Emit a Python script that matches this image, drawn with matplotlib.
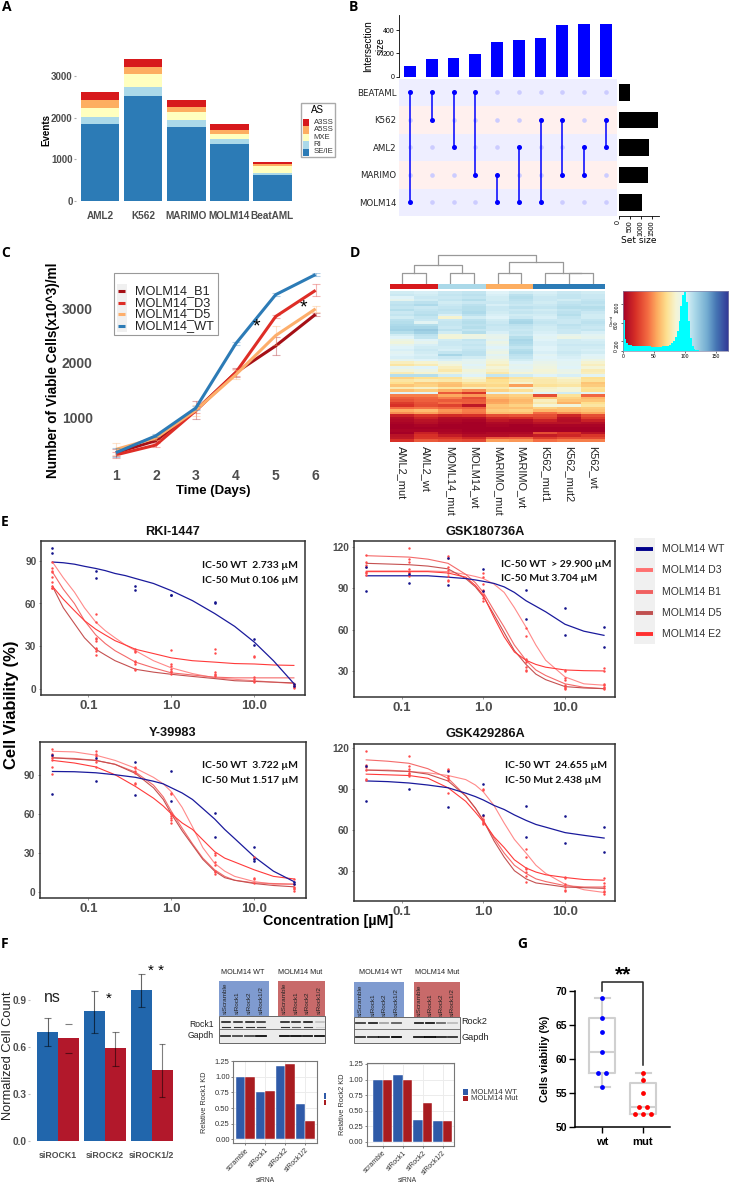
# Figure with panels A-G: splicing events, upset, growth, heatmap, dose response, knockdown
import matplotlib
matplotlib.use('Agg')
import matplotlib.pyplot as plt
from matplotlib.colors import LinearSegmentedColormap
from matplotlib.patches import Rectangle
import numpy as np

plt.rcParams['font.family'] = ['Liberation Sans', 'DejaVu Sans']

W, H = 730, 1185

# A: stacked splicing events
a_cells = ['AML2', 'K562', 'MARIMO', 'MOLM14', 'BeatAML']
a_se = [1843, 2524, 1787, 1378, 633]
a_ri = [168, 224, 152, 112, 32]
a_mxe = [232, 305, 192, 112, 176]
a_a5ss = [185, 168, 137, 97, 40]
a_a3ss = [192, 192, 152, 160, 48]
a_names = ['SE/IE', 'RI', 'MXE', 'A5SS', 'A3SS']

# B: upset plot
b_sets = ['BEATAML', 'K562', 'AML2', 'MARIMO', 'MOLM14']
b_inter = [89, 152, 158, 193, 299, 311, 331, 440, 449, 455]
b_members = [(0, 4), (0, 1), (0, 2), (0, 3), (3, 4), (2, 4), (1, 4), (1, 3), (2, 3), (1, 2)]
b_setsize = [500, 1735, 1350, 1320, 1040]

# C: growth curves
c_days = [1, 2, 3, 4, 5, 6]
c_b1 = [350, 570, 1130, 1820, 2310, 2890]
c_d3 = [310, 490, 1120, 1820, 2850, 3330]
c_d5 = [410, 620, 1130, 1780, 2500, 2990]
c_wt = [350, 660, 1170, 2350, 3250, 3620]
c_b1_err = [60, 30, 170, 80, 170, 30]
c_d3_err = [50, 30, 40, 70, 30, 110]
c_d5_err = [110, 40, 100, 80, 170, 60]
c_wt_err = [80, 30, 30, 30, 30, 20]

# D: heatmap, one row per line
d_samples = ['AML2_mut', 'AML2_wt', 'MOML14_mut', 'MOLM14_wt', 'MARIMO_mut',
             'MARIMO_wt', 'K562_mut1', 'K562_mut2', 'K562_wt']
d_heat = [
    [104, 102, 106, 108, 100, 104, 102, 106, 104],
    [106, 104, 108, 110, 102, 110, 104, 108, 106],
    [100, 106, 106, 108, 104, 112, 106, 108, 106],
    [96, 104, 108, 112, 104, 110, 106, 104, 108],
    [108, 110, 104, 106, 106, 108, 104, 108, 110],
    [110, 114, 106, 110, 102, 106, 106, 110, 108],
    [108, 106, 108, 112, 106, 110, 108, 112, 112],
    [112, 108, 110, 112, 106, 106, 104, 108, 110],
    [106, 110, 108, 114, 104, 108, 106, 110, 106],
    [108, 112, 102, 110, 102, 104, 104, 112, 104],
    [104, 108, 84, 104, 100, 106, 102, 108, 104],
    [110, 106, 106, 110, 104, 114, 106, 106, 108],
    [112, 98, 108, 112, 106, 116, 108, 106, 110],
    [114, 112, 108, 110, 108, 110, 106, 110, 108],
    [116, 116, 106, 112, 106, 108, 104, 108, 106],
    [118, 122, 110, 108, 106, 106, 104, 106, 108],
    [112, 118, 104, 112, 102, 108, 102, 106, 102],
    [104, 110, 88, 90, 96, 106, 100, 96, 98],
    [100, 108, 86, 92, 94, 112, 98, 92, 96],
    [92, 100, 104, 108, 98, 116, 100, 104, 102],
    [88, 96, 106, 106, 92, 114, 102, 104, 104],
    [96, 102, 106, 108, 96, 112, 102, 106, 106],
    [100, 104, 104, 106, 100, 108, 100, 104, 104],
    [102, 106, 102, 108, 96, 112, 100, 104, 102],
    [98, 104, 108, 110, 92, 114, 102, 106, 104],
    [100, 102, 116, 110, 98, 110, 98, 104, 100],
    [102, 104, 106, 104, 94, 108, 100, 102, 98],
    [96, 100, 102, 98, 88, 104, 98, 100, 92],
    [80, 84, 92, 96, 84, 100, 94, 98, 84],
    [74, 78, 86, 100, 80, 96, 92, 98, 80],
    [96, 100, 80, 96, 86, 98, 90, 100, 86],
    [88, 92, 76, 88, 82, 94, 86, 94, 78],
    [78, 84, 84, 92, 76, 86, 88, 92, 80],
    [112, 112, 104, 100, 108, 104, 100, 102, 98],
    [66, 70, 72, 84, 66, 74, 78, 84, 70],
    [74, 78, 76, 80, 70, 78, 76, 80, 72],
    [70, 64, 62, 72, 72, 84, 76, 78, 62],
    [62, 66, 60, 66, 68, 52, 72, 74, 64],
    [78, 82, 74, 80, 76, 86, 82, 86, 72],
    [60, 64, 56, 48, 66, 72, 84, 86, 70],
    [100, 100, 34, 22, 96, 92, 100, 104, 98],
    [44, 44, 54, 50, 62, 66, 30, 72, 38],
    [36, 38, 44, 30, 58, 62, 62, 66, 58],
    [32, 36, 34, 34, 52, 58, 80, 62, 62],
    [24, 32, 40, 36, 54, 60, 76, 56, 70],
    [20, 30, 26, 10, 62, 66, 86, 88, 74],
    [40, 42, 38, 36, 60, 60, 66, 62, 64],
    [56, 60, 50, 44, 64, 66, 58, 60, 62],
    [48, 52, 46, 42, 60, 60, 40, 48, 54],
    [14, 22, 18, 20, 30, 32, 30, 16, 30],
    [6, 14, 6, 6, 16, 18, 26, 8, 24],
    [4, 8, 4, 2, 10, 6, 14, 6, 14],
    [2, 6, 2, 0, 4, 4, 8, 8, 6],
    [0, 2, 0, 0, 2, 0, 2, 2, 2],
    [0, 0, 0, 0, 0, 0, 0, 0, 0],
    [2, 2, 2, 0, 0, 0, 0, 0, 0],
    [0, 14, 4, 2, 4, 4, 30, 20, 8],
    [8, 20, 12, 6, 6, 8, 12, 16, 22],
    [10, 22, 22, 16, 34, 36, 24, 30, 28],
    [20, 34, 30, 28, 52, 50, 40, 44, 44],
]
d_hist = [650, 240, 170, 130, 115, 105, 100, 100, 95, 95, 95, 90, 95, 90, 90, 85, 85, 80, 85, 85,
          85, 90, 90, 100, 110, 130, 160, 210, 300, 430, 640, 950, 1200, 1260, 1050, 640, 280, 90, 30, 10, 5]
d_hist_step = 3

# E: dose response, curves read at the concentrations of each x list
e_doses = [0.037, 0.123, 0.37, 1.0, 3.33, 10, 30]
rki_x = [0.037, 0.05, 0.068, 0.09, 0.123, 0.16, 0.21, 0.28, 0.37, 0.61, 1.0, 1.8, 3.33, 5.8, 10, 17, 30]
sig_x = [0.037, 0.068, 0.123, 0.21, 0.37, 0.61, 0.8, 1.0, 1.35, 1.8, 2.4, 3.33, 4.4, 5.8, 10, 17, 30]

rki_wt = [89, 88.5, 87.5, 86, 84.5, 83, 81, 79.5, 77.5, 74, 69, 62, 53, 44, 33, 20, 4]
rki_d3 = [89, 78, 68, 57, 47, 41, 36, 31, 27, 20, 15, 11, 8, 7, 6, 5, 4]
rki_b1 = [82, 70, 60, 48, 38, 32, 27, 23, 19, 15, 11.5, 10, 8.5, 8, 8, 8, 8]
rki_d5 = [72, 57, 46, 36, 28, 24, 20, 17, 14, 12, 10.5, 9, 7.5, 6, 5.5, 5, 4.5]
rki_e2 = [72, 63, 55, 48, 42, 38, 34, 31, 28, 25, 22, 20, 19, 18, 17.7, 17, 16.7]
rki_wt_pts = [[99, 95], [83, 78], [72, 69.5], [66, 66], [61, 60.5], [35, 31], [4, 2]]
rki_mut_pts = [[89, 85, 83, 82, 78.5, 75, 72, 71, 71], [52.5, 47, 36, 35, 34, 29, 28, 27, 24],
               [28, 26.5, 26, 20, 19, 18, 14, 13.5], [27.5, 18, 16, 14, 13, 12, 11],
               [28, 25.5, 12, 11, 10, 9], [23, 22.5, 8.5, 7, 6, 5], [4, 3, 2.5, 2, 1.5, 1]]

g18_wt = [99, 99, 99, 99, 98, 97, 96, 95, 93.5, 91, 87, 81, 77, 73, 64, 59, 56]
g18_d3 = [102.5, 102.5, 102.5, 102.5, 102, 100, 98.5, 97, 93, 87, 76, 62, 49, 38, 26, 21, 20]
g18_b1 = [113.5, 113, 112.5, 111, 108, 100, 94, 87, 74, 62, 49, 38, 31, 27, 21, 18.5, 17.5]
g18_d5 = [108, 107.5, 107, 106, 104, 97, 91, 84, 71, 58, 45, 35, 28, 24, 19, 18, 17.5]
g18_e2 = [102, 102, 102, 102, 101, 98, 92, 85, 69, 55, 44, 38, 35, 33, 31, 30.5, 30.3]
g18_wt_pts = [[105, 88], [100, 94], [112, 92], [104, 88], [88.5, 68], [76, 56.5], [62, 47.5]]
g18_mut_pts = [[114, 109, 107, 105, 102, 101, 99.5], [119, 111, 109, 104, 102, 101, 99],
               [113, 112, 105, 103, 101, 99, 96, 95], [101, 98, 93, 89, 88, 85, 83, 81],
               [61, 55.5, 39, 38, 37, 33, 31, 30], [31, 30, 25, 24, 20, 19, 18, 17],
               [32.5, 30, 21, 20, 18.5, 18, 17.5]]

y39_wt = [92.5, 92.3, 91.5, 90, 88, 85, 83, 80, 76, 71, 64, 56, 48, 41, 27, 16, 8]
y39_d3 = [108, 107.5, 105, 101, 95, 88, 83, 77, 65, 50, 34, 22, 16, 12, 8, 6, 6]
y39_b1 = [103, 102.5, 101, 98, 92, 82, 73, 62, 49, 37, 26, 17, 12, 9, 7, 6.5, 6]
y39_d5 = [103, 102, 101, 98, 91, 80, 71, 60, 47, 36, 25, 16, 11, 9, 6.5, 5, 4]
y39_e2 = [101, 99, 96, 90, 81, 72, 66, 60, 53, 48, 40, 31, 26, 23, 17, 12, 10]
y39_wt_pts = [[105, 75], [103, 85], [99.5, 74.5], [93, 69.5], [61, 42], [34.5, 25, 24], [8, 6]]
y39_mut_pts = [[110, 106, 104, 103, 101, 96, 90.5], [108, 106, 104, 101, 100, 96],
               [96, 95, 93, 91, 84, 83], [76, 75, 61, 60, 58, 57, 55, 53],
               [30, 28.5, 23, 21, 16, 15, 14], [27, 26, 11, 10, 7], [10, 6, 4, 3, 2, 1]]

g42_wt = [96, 95.5, 94.5, 93, 91, 87, 84.5, 82, 78, 75, 71, 67, 64, 62, 58, 56, 54]
g42_d3 = [104, 104, 103, 102, 100, 97, 93, 88, 78, 65, 53, 43, 34, 28, 20, 16, 14]
g42_b1 = [111.5, 110.5, 109, 105, 98, 85, 76, 67, 54, 43, 34, 28, 24, 22, 19, 18, 18]
g42_d5 = [104, 103.5, 103, 101, 96, 85, 76, 67, 52, 40, 30, 24, 21, 20, 18, 17.5, 17]
g42_e2 = [101, 100.5, 100, 98, 91, 81, 73, 66, 55, 47, 38, 32, 29, 27, 25, 23.5, 23]
g42_wt_pts = [[107, 81], [90], [103.5, 77], [94, 71], [77.5, 55], [70, 50.5], [62, 44]]
g42_mut_pts = [[118, 108, 106, 104, 97.5, 97], [114, 107, 105, 103, 102, 101, 100],
               [105, 104, 100, 98, 97, 87], [90, 89, 70, 68, 67, 66, 65, 64],
               [46, 40, 32, 31, 29, 26, 22], [25.5, 25, 20, 18, 16, 15],
               [24.5, 21, 19, 17, 15, 14, 13]]

# F: cell counts and knockdown
f_groups = ['siROCK1', 'siROCK2', 'siROCK1/2']
f_wt = [0.697, 0.833, 0.968]
f_mut = [0.66, 0.593, 0.455]
f_wt_lo = [0.605, 0.69, 0.86]
f_wt_hi = [0.79, 0.96, 1.07]
f_mut_lo = [0.565, 0.48, 0.28]
f_mut_hi = [0.75, 0.70, 0.62]
kd_names = ['scramble', 'siRock1', 'siRock2', 'siRock1/2']
kd1_wt = [1.0, 0.76, 1.18, 0.56]
kd1_mut = [1.0, 0.78, 1.2, 0.3]
kd2_wt = [1.0, 1.07, 0.35, 0.34]
kd2_mut = [1.0, 1.0, 0.62, 0.33]
lanes = ['siScramble', 'siRock1', 'siRock2', 'siRock1/2']
blot1_rock_up = [.95, .9, .95, .85, .95, .9, 1, .2]
blot1_rock_lo = [.8, .8, .8, .75, .8, .6, .75, .1]
blot1_gapdh = [.8, .7, .7, .95, .95, .95, .9, .95]
blot2_rock = [.75, .85, .3, .6, .85, .9, .55, .2]
blot2_gapdh = [.8, .8, .85, 1, .9, 1, .85, .8]

# G: viability
g_wt_pts = [69, 66, 64, 61, 58, 58, 56]
g_wt_off = [0, 0, 0, 0, -0.1, 0.1, 0]
g_mut_pts = [58, 57, 55, 53, 53, 52, 52, 52]
g_mut_off = [0, 0, 0, -0.1, 0.1, -0.2, 0, 0.2]
g_wt_box = dict(med=61, q1=58, q3=66, whislo=56, whishi=69, fliers=[])
g_mut_box = dict(med=53, q1=52, q3=56.5, whislo=52, whishi=58, fliers=[])

fig = plt.figure(figsize=(W / 100, H / 100), dpi=100)


# axes placed by pixel box
def axpx(x0, y0, x1, y1):
    return fig.add_axes([x0 / W, 1 - y1 / H, (x1 - x0) / W, (y1 - y0) / H])


gray_txt = '#4d4d4d'

# ---- A ----
ax = axpx(76, 55, 296, 205)
a_cols = ['#2c7bb6', '#abd9e9', '#ffffbf', '#fdae61', '#d7191c']
bottom = np.zeros(5)
for vals, col, name in zip([a_se, a_ri, a_mxe, a_a5ss, a_a3ss], a_cols, a_names):
    ax.bar(range(5), vals, 0.9, bottom=bottom, color=col, label=name)
    bottom = bottom + np.array(vals)
ax.set_xlim(-0.557, 4.55)
ax.set_ylim(-96, 3510)
ax.set_xticks(range(5), a_cells, fontsize=7.2, fontweight='bold', color=gray_txt)
ax.set_yticks([0, 1000, 2000, 3000])
ax.set_yticklabels(['0', '1000', '2000', '3000'], fontsize=7, fontweight='bold', color=gray_txt)
ax.tick_params(axis='x', length=0, pad=4)
ax.tick_params(axis='y', length=1.5, color='#aaaaaa', pad=1)
ax.set_ylabel('Events', fontsize=7, fontweight='bold', labelpad=0)
for s in ax.spines.values():
    s.set_visible(False)

# ---- B ----
ax = axpx(399.3, 15, 616.6, 76.7)
ax.bar(range(10), b_inter, 0.54, color='#0000ff')
ax.set_xlim(-0.5, 9.5)
ax.set_ylim(0, 530)
ax.set_xticks([])
ax.set_yticks([0, 200, 400])
ax.tick_params(axis='y', labelsize=5, length=2, pad=1.5, width=0.6)
ax.set_ylabel('Intersection\nsize', fontsize=7.2, labelpad=-2, linespacing=1.25)
for s in ['top', 'right', 'bottom']:
    ax.spines[s].set_visible(False)
ax.spines['left'].set_linewidth(0.6)

ax = axpx(399.3, 78.7, 616.6, 216)
for i in range(5):
    ax.axhspan(i - 0.5, i + 0.5, color='#eeeeff' if i % 2 == 0 else '#fff0ee', lw=0)
    ax.scatter(range(10), [i] * 10, s=11, color='#ccccff', zorder=2, lw=0)
for j, (a, b) in enumerate(b_members):
    ax.plot([j, j], [a, b], color='#0000ff', lw=1.1, zorder=3)
    ax.scatter([j, j], [a, b], s=13, color='#0000ff', zorder=4, lw=0)
ax.set_xlim(-0.5, 9.5)
ax.set_ylim(4.5, -0.5)
ax.set_xticks([])
ax.set_yticks(range(5), b_sets, fontsize=6.2, family='DejaVu Sans', color='#222222')
ax.tick_params(axis='y', length=0, pad=2)
for s in ax.spines.values():
    s.set_visible(False)

ax = axpx(618.7, 78.7, 659.3, 216)
ax.barh(range(5), b_setsize, 0.6, color='black')
ax.set_xlim(0, 1810)
ax.set_ylim(4.5, -0.5)
ax.set_yticks([])
ax.set_xticks([0, 500, 1000, 1500])
ax.tick_params(axis='x', labelsize=5, labelrotation=90, length=2, pad=1, width=0.6)
ax.set_xlabel('Set size', fontsize=6.5, labelpad=0.5, family='DejaVu Sans')
for s in ['top', 'right', 'left']:
    ax.spines[s].set_visible(False)
ax.spines['bottom'].set_linewidth(0.6)

# ---- C ----
ax = axpx(106.7, 273, 320, 466.7)
c_series = [(c_b1, c_b1_err, '#a50f15', 'MOLM14_B1'), (c_d3, c_d3_err, '#de2d26', 'MOLM14_D3'),
            (c_d5, c_d5_err, '#fdae6b', 'MOLM14_D5'), (c_wt, c_wt_err, '#2c7bb6', 'MOLM14_WT')]
for vals, errs, col, name in c_series:
    ax.errorbar(c_days, vals, yerr=errs, fmt='none', ecolor=col, elinewidth=0.8, capsize=3,
                capthick=0.8, alpha=0.35)
    ax.plot(c_days, vals, color=col, lw=2.2, solid_capstyle='butt')
ax.set_xlim(0.77, 6.11)
ax.set_ylim(93, 3648)
ax.set_xticks(c_days)
ax.set_xticklabels([str(d) for d in c_days], fontsize=10, fontweight='bold', color=gray_txt)
ax.set_yticks([1000, 2000, 3000])
ax.set_yticklabels(['1000', '2000', '3000'], fontsize=10, fontweight='bold', color=gray_txt)
ax.tick_params(axis='x', length=0, pad=2)
ax.tick_params(axis='y', length=0, pad=10)
ax.set_xlabel('Time (Days)', fontsize=9.5, fontweight='bold', labelpad=1)
ax.set_ylabel('Number of Viable Cells(x10^3)/ml', fontsize=9.8, fontweight='bold', labelpad=1)
for s in ax.spines.values():
    s.set_visible(False)

# ---- D ----
d_cmap = LinearSegmentedColormap.from_list('key', [
    (0 / 170, '#a50026'), (20 / 170, '#d73027'), (40 / 170, '#f46d43'), (55 / 170, '#fdae61'),
    (70 / 170, '#fee090'), (85 / 170, '#f5f5d5'), (100 / 170, '#e0f3f8'), (115 / 170, '#abd9e9'),
    (135 / 170, '#74add1'), (150 / 170, '#4575b4'), (170 / 170, '#313695')])
ax = axpx(390, 290.7, 605, 441.7)
ax.imshow(np.array(d_heat), cmap=d_cmap, vmin=0, vmax=170, aspect='auto', interpolation='nearest')
ax.set_yticks([])
ax.set_xticks(range(9), d_samples, rotation=270, fontsize=7.9, color='#222222')
ax.tick_params(axis='x', length=0, pad=3)
for s in ax.spines.values():
    s.set_visible(False)

# colour bar over the heatmap
ax = axpx(390, 284.3, 605, 289)
d_group_cols = ['#d7191c', '#d7191c', '#abd9e9', '#abd9e9', '#fdae61', '#fdae61', '#2c7bb6', '#2c7bb6', '#2c7bb6']
ax.bar(range(9), [1] * 9, 1, color=d_group_cols)
ax.set_xlim(-0.5, 8.5)
ax.set_ylim(0, 1)
ax.axis('off')

# dendrogram, leaves at column index, height in picture units
ax = axpx(390, 254, 605, 284.3)
d_merges = [(0, 1, 35, 0, 0), (2, 3, 33, 0, 0), (4, 5, 35, 0, 0), (7, 8, 33, 0, 0),
            (6, 7.5, 33, 0, 33), (0.5, 2.5, 57, 35, 33), (4.5, 6.75, 66, 35, 33),
            (1.5, 5.625, 87, 57, 66)]
for xa, xb, h, ha, hb in d_merges:
    ax.plot([xa, xa, xb, xb], [ha, h, h, hb], color='#999999', lw=0.9)
ax.set_xlim(-0.5, 8.5)
ax.set_ylim(0, 91)
ax.axis('off')

# colour key with histogram
ax = axpx(622.7, 290.7, 728.3, 350.7)
ax.imshow(np.linspace(0, 170, 256).reshape(1, -1), cmap=d_cmap, vmin=0, vmax=170,
          extent=(0, 170, 0, 1285), aspect='auto', interpolation='bilinear')
ax.bar(np.arange(len(d_hist)) * d_hist_step, d_hist, d_hist_step, align='edge', color='#00ffff', lw=0)
ax.set_xlim(0, 170)
ax.set_ylim(0, 1285)
ax.set_xticks([0, 50, 100, 150])
ax.set_yticks([0, 200, 600, 1000])
ax.tick_params(labelsize=3.6, length=1.5, width=0.4, pad=1)
ax.tick_params(axis='y', labelrotation=90)
ax.set_ylabel('Count', fontsize=3, labelpad=0.5)
for s in ax.spines.values():
    s.set_color('#8888aa')
    s.set_linewidth(0.5)

# ---- E ----
e_cols = {'wt': '#1a1a9c', 'd3': '#ff8a8a', 'b1': '#f46a6a', 'd5': '#c45050', 'e2': '#ff3a3a'}
e_panels = [
    ('RKI-1447', (41.3, 540.7, 304.7, 694.7), 171.3, 83, 689.3, 1.43, [0, 30, 60, 90], rki_x,
     [rki_wt, rki_d3, rki_b1, rki_d5, rki_e2], rki_wt_pts, rki_mut_pts,
     ['IC-50 WT  2.733 µM', 'IC-50 Mut 0.106 µM'], 172.7, 531.7),
    ('GSK180736A', (354, 540.7, 615, 696.7), 483.3, 81.7, 712.9, 1.385, [30, 60, 90, 120], sig_x,
     [g18_wt, g18_d3, g18_b1, g18_d5, g18_e2], g18_wt_pts, g18_mut_pts,
     ['IC-50 WT  > 29.900 µM', 'IC-50 Mut 3.704 µM'], 484.7, 531.7),
    ('Y-39983', (40, 742.3, 306, 897.7), 171.3, 83, 892, 1.303, [0, 30, 60, 90], sig_x,
     [y39_wt, y39_d3, y39_b1, y39_d5, y39_e2], y39_wt_pts, y39_mut_pts,
     ['IC-50 WT  3.722 µM', 'IC-50 Mut 1.517 µM'], 172.7, 732.7),
    ('GSK429286A', (354, 744.3, 615.3, 900.7), 483.3, 81.8, 911.5, 1.36, [30, 60, 90, 120], sig_x,
     [g42_wt, g42_d3, g42_b1, g42_d5, g42_e2], g42_wt_pts, g42_mut_pts,
     ['IC-50 WT  24.655 µM', 'IC-50 Mut 2.438 µM'], 485, 734),
]
ic_pos = [(202, 566, 580.3), (500.7, 564.3, 579), (202, 766, 780.3), (505.3, 766, 780.3)]
for (title, box, xc, ppd, y0, ppu, yt, cx, curves, wt_pts, mut_pts, ic, tx, ty), ip in zip(e_panels, ic_pos):
    ax = axpx(*box)
    ax.set_xscale('log')
    for dose, ys in zip(e_doses, mut_pts):
        ax.scatter([dose] * len(ys), ys, s=3, color='#ff4a4a', lw=0, zorder=3)
    for dose, ys in zip(e_doses, wt_pts):
        ax.scatter([dose] * len(ys), ys, s=3.5, color='#14148c', lw=0, zorder=3)
    for vals, key in zip(curves[1:], ['d3', 'b1', 'd5', 'e2']):
        ax.plot(cx, vals, color=e_cols[key], lw=0.8, zorder=2)
    ax.plot(cx, curves[0], color=e_cols['wt'], lw=0.9, zorder=2)
    ax.set_xlim(10 ** ((box[0] - xc) / ppd), 10 ** ((box[2] - xc) / ppd))
    ax.set_ylim((y0 - box[3]) / ppu, (y0 - box[1]) / ppu)
    ax.set_xticks([0.1, 1, 10])
    ax.set_xticklabels(['0.1', '1.0', '10.0'], fontsize=9.5, fontweight='bold', color=gray_txt)
    ax.minorticks_off()
    ax.set_yticks(yt)
    ax.set_yticklabels([str(v) for v in yt], fontsize=7.3, fontweight='bold', color=gray_txt)
    ax.tick_params(length=1.5, width=0.6, color='#888888', pad=2)
    for s in ax.spines.values():
        s.set_linewidth(1.1)
        s.set_color('#333333')
    fig.text(tx / W, 1 - ty / H, title, ha='center', va='center', fontsize=9.2, fontweight='bold', color='#111111')
    fig.text(ip[0] / W, 1 - ip[1] / H, ic[0], family='Lato', fontweight='bold', fontsize=7.5, va='center', color='#111111')
    fig.text(ip[0] / W, 1 - ip[2] / H, ic[1], family='Lato', fontweight='bold', fontsize=7.5, va='center', color='#111111')

# ---- F ----
ax = axpx(30, 970, 177, 1145)
f_x = np.arange(3)
ax.bar(f_x - 0.2225, f_wt, 0.445, color='#2166ac')
ax.bar(f_x + 0.2225, f_mut, 0.445, color='#b2182b')
ax.vlines(f_x - 0.2225, f_wt_lo, f_wt_hi, color='black', lw=0.8, alpha=0.6)
ax.vlines(f_x[1:] + 0.2225, f_mut_lo[1:], f_mut_hi[1:], color='black', lw=0.8, alpha=0.5)
ax.hlines(f_wt_lo + f_wt_hi, np.tile(f_x - 0.2925, 2), np.tile(f_x - 0.1525, 2), color='black', lw=0.8, alpha=0.5)
ax.hlines(f_mut_lo + f_mut_hi, np.tile(f_x + 0.1525, 2), np.tile(f_x + 0.2925, 2), color='black', lw=0.8, alpha=0.5)
ax.set_xlim(-0.6, 2.54)
ax.set_ylim(-0.0275, 1.095)
ax.set_xticks(f_x, f_groups, fontsize=6.3, fontweight='bold', color=gray_txt)
ax.set_yticks([0, 0.3, 0.6, 0.9])
ax.set_yticklabels(['0.0', '0.3', '0.6', '0.9'], fontsize=7.3, fontweight='bold', color=gray_txt)
ax.tick_params(axis='x', length=0, pad=4)
ax.tick_params(axis='y', length=1.5, color='#bbbbbb', pad=1)
for s in ax.spines.values():
    s.set_visible(False)

# knockdown bars
kd_panels = [((233.3, 1060.7, 316.7, 1143.3), -0.606, kd1_wt, kd1_mut, 'Relative Rock1 KD', 5),
             ((366.7, 1063.3, 454.3, 1146), -0.8, kd2_wt, kd2_mut, 'Relative Rock2 KD', 2)]
for box, xl, wt, mut, ylab, lpad in kd_panels:
    ax = axpx(*box)
    pos = np.arange(4)
    ax.bar(pos - 0.235, wt, 0.47, color='#2f5aa8', edgecolor='white', lw=0.3, zorder=2)
    ax.bar(pos + 0.235, mut, 0.47, color='#a81c20', edgecolor='white', lw=0.3, zorder=2)
    ax.set_xlim(xl, xl + (box[2] - box[0]) / 20)
    ax.set_ylim(-0.066, 1.26)
    ax.set_xticks(pos, kd_names, rotation=45, ha='right', rotation_mode='anchor', fontsize=5, color='#333333')
    ax.set_yticks([0, 0.25, 0.5, 0.75, 1, 1.25])
    ax.set_yticklabels(['0.00', '0.25', '0.50', '0.75', '1.00', '1.25'], fontsize=5.5, color='#333333')
    ax.tick_params(length=1.5, width=0.5, pad=1, color='#555555')
    ax.grid(True, color='#ececec', lw=0.7, zorder=0)
    ax.set_axisbelow(True)
    ax.set_ylabel(ylab, fontsize=5.3, labelpad=lpad, color='#333333')
    for s in ax.spines.values():
        s.set_color('#777777')
        s.set_linewidth(0.8)

# ---- G ----
ax = axpx(575.3, 991.3, 670, 1127.3)
ax.bxp([g_wt_box, g_mut_box], positions=[1, 2], widths=0.63, showfliers=False,
       boxprops=dict(color='#d0d0d0', lw=1.5), medianprops=dict(color='#d0d0d0', lw=1.5),
       whiskerprops=dict(color='#d0d0d0', lw=1.5), capprops=dict(color='#d0d0d0', lw=1.5), capwidths=0.37)
ax.scatter(1 + np.array(g_wt_off), g_wt_pts, s=12, color='#0000ff', lw=0, zorder=4)
ax.scatter(2 + np.array(g_mut_off), g_mut_pts, s=12, color='#ff0000', lw=0, zorder=4)
ax.plot([1, 1, 2, 2], [70, 71.4, 71.4, 59.2], color='#222222', lw=1.1, clip_on=False)
ax.set_xlim(0.34, 2.66)
ax.set_ylim(50, 70)
ax.set_xticks([1, 2], ['wt', 'mut'], fontsize=8, fontweight='bold')
ax.set_yticks([50, 55, 60, 65, 70])
ax.set_yticklabels(['50', '55', '60', '65', '70'], fontsize=7.5, fontweight='bold')
ax.tick_params(length=4, width=1, pad=2)
ax.tick_params(axis='x', pad=3)
ax.set_ylabel('Cells viabiliy (%)', fontsize=7.8, fontweight='bold', labelpad=4)
for s in ['top', 'right']:
    ax.spines[s].set_visible(False)
ax.spines['left'].set_linewidth(1.1)
ax.spines['bottom'].set_linewidth(1.1)

# ---- overlay in pixels: letters, legends, blots ----
ov = fig.add_axes([0, 0, 1, 1], zorder=10)
ov.set_xlim(0, W)
ov.set_ylim(H, 0)
ov.axis('off')
ov.patch.set_alpha(0)

for letter, x, y in [('A', 2, 7), ('B', 349, 7), ('C', 1, 253), ('D', 350, 253), ('E', 1, 522), ('F', 1, 944), ('G', 517, 944)]:
    ov.text(x, y, letter, fontsize=10, fontweight='bold', va='center', family='Open Sans')

# legend of A
ov.add_patch(Rectangle((301.3, 103.3), 33.7, 54, fc='white', ec='#aaaaaa', lw=1))
ov.text(317.7, 110, 'AS', ha='center', va='center', fontsize=7)
for i, (name, col) in enumerate(zip(a_names[::-1], a_cols[::-1])):
    ov.add_patch(Rectangle((303.3, 118.7 + i * 7.5), 5.3, 7.3, fc=col, lw=0))
    ov.text(313.7, 122.5 + i * 7.3, name, fontsize=5.6, va='center', color='#333333')

# legend of C
ov.add_patch(Rectangle((114, 273), 104, 62, fc='white', ec='#999999', lw=0.8))
ov.add_patch(Rectangle((116.5, 284), 10, 48, fc='#f0f0f0', lw=0))
for (vals, errs, col, name), y in zip(c_series, [290.7, 302.7, 314.3, 326.3]):
    ov.plot([117.7, 125.3], [y, y], color=col, lw=2.2, solid_capstyle='butt')
    ov.text(134.7, y, name, fontsize=9.2, va='center', color='#222222')
ov.text(256, 327, '*', fontsize=14, ha='center', va='center')
ov.text(303.7, 307.5, '*', fontsize=14, ha='center', va='center')

# legend and labels of E
ov.add_patch(Rectangle((634.3, 538.3), 20.7, 106, fc='#f0f0f0', lw=0))
e_leg = [('MOLM14 WT', '#00008b'), ('MOLM14 D3', '#ff7070'), ('MOLM14 B1', '#f06060'), ('MOLM14 D5', '#c05050'), ('MOLM14 E2', '#ff3030')]
for (name, col), y in zip(e_leg, [549, 570.3, 591.7, 612.7, 633.7]):
    ov.plot([636, 652.7], [y, y], color=col, lw=2.8, solid_capstyle='butt')
    ov.text(661.7, y, name, fontsize=7.6, va='center', color='#333333')
ov.text(12, 705, 'Cell Viability (%)', rotation=90, fontsize=12, fontweight='bold', ha='center', va='center')
ov.text(328, 921, 'Concentration [µM]', fontsize=10.3, fontweight='bold', ha='center', va='center')

# F labels and significance
ov.text(8, 1056, 'Normalized Cell Count', rotation=90, fontsize=9.3, ha='center', va='center', color='#222222')
ov.text(52, 997, 'ns', fontsize=11.5, ha='center', va='center', color='#222222')
ov.text(109, 999, '*', fontsize=11, ha='center', va='center')
ov.text(156, 971, '* *', fontsize=11, ha='center', va='center')

# blots
ov_blots = [
    (219, 269, 278, 325, 980.7, 1016, 1042.7, 1029.3, [225.7, 237.7, 249.7, 261],
     [284.7, 296, 307.7, 319.7], 242.3, 300, 972.3),
    (354.3, 404, 414.3, 460, 982, 1017.3, 1042.7, 1029, [360.3, 373, 384, 396.3],
     [419, 430, 441, 452.3], 380.7, 437.3, 972.3),
]
for bx0, bx1, rx0, rx1, ytop, ybl, ybot, ydiv, xw, xm, tw, tm, ty in ov_blots:
    ov.add_patch(Rectangle((bx0, ytop), bx1 - bx0, ybl - ytop, fc='#7f9bd0', lw=0))
    ov.add_patch(Rectangle((rx0, ytop), rx1 - rx0, ybl - ytop, fc='#c86a6a', lw=0))
    for x, name in zip(xw + xm, lanes + lanes):
        ov.text(x, ybl - 1.5, name, rotation=90, fontsize=4.6, ha='center', va='bottom', color='#222222')
    ov.text(tw, ty, 'MOLM14 WT', fontsize=5.2, ha='center', va='center', color='#222222')
    ov.text(tm, ty, 'MOLM14 Mut', fontsize=5.2, ha='center', va='center', color='#222222')
    ov.add_patch(Rectangle((bx0, ybl), rx1 - bx0, ybot - ybl, fc='#ececec', ec='#666666', lw=0.7))
    ov.plot([bx0, rx1], [ydiv, ydiv], color='#666666', lw=0.6)

blot1_x = ov_blots[0][8] + ov_blots[0][9]
blot2_x = ov_blots[1][8] + ov_blots[1][9]
for x, a1, a2, a3 in zip(blot1_x, blot1_rock_up, blot1_rock_lo, blot1_gapdh):
    ov.plot([x - 4.2, x + 4.2], [1022, 1022], color='black', alpha=a1, lw=1.1)
    ov.plot([x - 4.2, x + 4.2], [1026.7, 1026.7], color='black', alpha=a2, lw=0.8)
    ov.plot([x - 4.6, x + 4.6], [1035.5, 1035.5], color='black', alpha=a3, lw=1.3)
for x, a1, a2 in zip(blot2_x, blot2_rock, blot2_gapdh):
    ov.plot([x - 4.2, x + 4.2], [1023, 1023], color='black', alpha=a1, lw=1.3)
    ov.plot([x - 4.6, x + 4.6], [1036.7, 1036.7], color='black', alpha=a2, lw=1.3)
ov.text(214, 1024.5, 'Rock1', fontsize=6.2, ha='right', va='center', color='#222222')
ov.text(214, 1036, 'Gapdh', fontsize=6.2, ha='right', va='center', color='#222222')
ov.text(461, 1021.7, 'Rock2', fontsize=6.6, va='center', color='#222222')
ov.text(461, 1037.3, 'Gapdh', fontsize=6.6, va='center', color='#222222')

# legend and axis text of the knockdown bars
ov.text(265, 1180, 'siRNA', fontsize=4.9, ha='center', va='center', color='#333333')
ov.text(407.7, 1180, 'siRNA', fontsize=4.9, ha='center', va='center', color='#333333')
ov.add_patch(Rectangle((462.7, 1089), 5.6, 5.7, fc='#2f5aa8', lw=0))
ov.add_patch(Rectangle((462.7, 1095.7), 5.6, 5.4, fc='#a81c20', lw=0))
ov.text(470.7, 1092, 'MOLM14 WT', fontsize=5.6, va='center', color='#333333')
ov.text(470.7, 1098.5, 'MOLM14 Mut', fontsize=5.6, va='center', color='#333333')
ov.add_patch(Rectangle((324.3, 1093), 1.6, 5.8, fc='#2f5aa8', lw=0))
ov.add_patch(Rectangle((324.3, 1099.5), 1.6, 5.4, fc='#a81c20', lw=0))

# G stars
ov.text(623, 975, '**', fontsize=15, fontweight='bold', ha='center', va='center')

fig.savefig('out.png', dpi=100)
